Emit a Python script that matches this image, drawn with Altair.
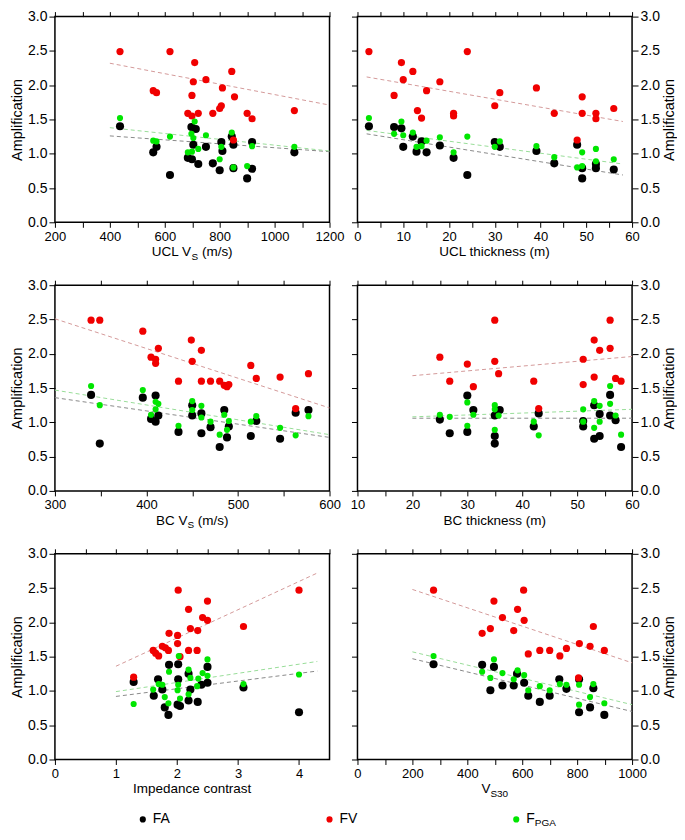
import altair as alt
import pandas as pd

FONT = "Liberation Sans"
W, H = 275, 206

SERIES = ["FA", "FV", "FPGA"]
POINT_COLORS = ["#000000", "#f00000", "#00e600"]
LINE_COLORS = ["#8a8a8a", "#d49a9a", "#99dd99"]
POINT_SIZES = [66, 38, 38]

# ---------------- Panel 1: UCL Vs ----------------
p1_fa_x = [437, 558, 570, 619, 697, 713, 704, 684, 699, 722, 750, 775, 800, 806, 810, 844, 850, 850, 900, 918, 918, 1072]
p1_fa_y = [1.40, 1.02, 1.10, 0.69, 1.39, 1.36, 1.13, 0.94, 0.92, 0.85, 1.10, 0.86, 0.76, 1.17, 1.04, 1.25, 1.13, 0.79, 0.64, 0.78, 1.17, 1.02]
p1_fv_x = [437, 619, 709, 704, 750, 844, 558, 570, 699, 810, 854, 806, 800, 684, 699, 722, 775, 900, 918, 1072, 850]
p1_fv_y = [2.49, 2.49, 2.33, 2.05, 2.08, 2.20, 1.92, 1.89, 1.85, 1.96, 1.83, 1.70, 1.66, 1.59, 1.55, 1.59, 1.59, 1.59, 1.51, 1.63, 1.20]
p1_pga_x = [437, 558, 570, 619, 709, 697, 704, 684, 699, 722, 750, 800, 806, 844, 850, 900, 918, 1072]
p1_pga_y = [1.52, 1.19, 1.18, 1.25, 1.47, 1.29, 1.23, 1.02, 1.03, 1.07, 1.27, 0.92, 1.10, 1.31, 0.80, 0.82, 1.11, 1.10]
p1_fit = {"FA": (400, 1.26, 1200, 1.03), "FV": (400, 2.32, 1200, 1.71), "FPGA": (400, 1.38, 1200, 1.04)}

# ---------------- Panel 2: UCL thickness ----------------
p2_fa_x = [2.5, 8.0, 9.6, 12.1, 10.0, 14.0, 12.9, 15.1, 18.0, 21.0, 24.0, 30.0, 31.1, 39.1, 43.0, 48.0, 49.1, 49.1, 52.1, 52.1, 56.0]
p2_fa_y = [1.40, 1.39, 1.37, 1.25, 1.10, 1.18, 1.03, 1.02, 1.12, 0.94, 0.69, 1.17, 1.10, 1.04, 0.86, 1.13, 0.79, 0.64, 0.85, 0.79, 0.77]
p2_fv_x = [2.5, 24.0, 9.6, 12.1, 10.0, 18.0, 8.0, 15.1, 39.1, 31.1, 49.1, 30.0, 13.1, 56.0, 14.0, 21.0, 21.0, 43.0, 49.1, 52.1, 52.1, 48.0]
p2_fv_y = [2.49, 2.49, 2.33, 2.20, 2.08, 2.05, 1.85, 1.92, 1.96, 1.89, 1.83, 1.70, 1.63, 1.66, 1.52, 1.59, 1.55, 1.59, 1.59, 1.59, 1.51, 1.20]
p2_pga_x = [2.5, 8.0, 9.6, 10.0, 12.1, 12.9, 14.0, 15.1, 18.0, 21.0, 24.0, 30.0, 31.1, 39.1, 43.0, 48.0, 49.1, 49.1, 52.1, 52.1, 56.0]
p2_pga_y = [1.52, 1.29, 1.47, 1.27, 1.31, 1.10, 1.11, 1.19, 1.24, 1.02, 1.25, 1.10, 1.18, 1.11, 0.95, 0.80, 1.02, 0.82, 1.07, 0.89, 0.92]
p2_fit = {"FA": (2, 1.29, 58, 0.69), "FV": (2, 2.12, 58, 1.47), "FPGA": (2, 1.34, 58, 0.85)}

# ---------------- Panel 3: BC Vs ----------------
p3_fa_x = [339.5, 349, 396, 410, 405, 410, 413, 435, 450, 450, 460, 460, 470, 480, 485, 488, 490, 514, 520, 546, 563, 577]
p3_fa_y = [1.40, 0.69, 1.36, 1.39, 1.05, 1.01, 1.10, 0.86, 1.25, 1.10, 1.13, 0.84, 0.93, 0.64, 1.18, 0.78, 0.94, 0.80, 1.02, 0.76, 1.14, 1.18]
p3_fv_x = [339.5, 349, 396, 449, 413, 460, 405, 410, 410, 450, 514, 577, 520, 546, 435, 460, 470, 480, 485, 488, 490, 563]
p3_fv_y = [2.49, 2.49, 2.33, 2.20, 2.08, 2.05, 1.95, 1.92, 1.86, 1.89, 1.83, 1.71, 1.64, 1.66, 1.60, 1.60, 1.60, 1.60, 1.54, 1.52, 1.55, 1.20]
p3_pga_x = [339.5, 349, 396, 410, 413, 410, 405, 435, 450, 450, 460, 460, 470, 480, 485, 488, 490, 514, 520, 546, 563, 577]
p3_pga_y = [1.53, 1.25, 1.47, 1.30, 1.27, 1.19, 1.11, 0.95, 1.31, 1.18, 1.24, 1.07, 1.01, 0.82, 1.11, 0.89, 1.02, 1.01, 1.09, 0.92, 0.81, 1.09]
p3_fit = {"FA": (300, 1.36, 600, 0.78), "FV": (300, 2.51, 600, 1.21), "FPGA": (300, 1.47, 600, 0.82)}

# ---------------- Panel 4: BC thickness ----------------
p4_fa_x = [25.0, 26.8, 30.0, 30.0, 31.1, 35.0, 35.9, 35.0, 35.0, 42.1, 43.0, 51.1, 51.1, 53.1, 53.1, 54.1, 54.1, 56.0, 56.0, 57.0, 58.0]
p4_fa_y = [1.04, 0.84, 1.39, 0.86, 1.18, 1.10, 1.18, 0.80, 0.69, 0.94, 1.13, 1.02, 0.94, 1.25, 0.76, 0.80, 1.12, 1.40, 1.10, 1.03, 0.64]
p4_fv_x = [25.0, 26.8, 30.0, 31.1, 35.0, 35.0, 35.7, 42.1, 43.0, 51.1, 51.1, 53.1, 53.1, 54.1, 56.0, 56.0, 57.0, 58.0]
p4_fv_y = [1.95, 1.60, 1.85, 1.52, 2.49, 1.89, 1.71, 1.60, 1.20, 1.92, 1.55, 2.20, 1.66, 2.05, 2.49, 2.08, 1.64, 1.60]
p4_pga_x = [25.0, 26.8, 30.0, 30.0, 31.1, 35.0, 35.0, 35.7, 35.0, 42.1, 43.0, 51.1, 51.1, 53.1, 53.1, 54.1, 54.1, 56.0, 56.0, 57.0, 58.0]
p4_pga_y = [1.11, 1.08, 1.29, 0.95, 1.11, 1.25, 1.19, 1.10, 0.89, 1.01, 0.81, 1.19, 1.01, 1.31, 0.92, 1.24, 1.01, 1.53, 1.27, 1.10, 0.82]
p4_fit = {"FA": (20, 1.06, 60, 1.06), "FV": (20, 1.68, 60, 1.96), "FPGA": (20, 1.08, 60, 1.19)}

# ---------------- Panel 5: Impedance contrast ----------------
p5_fa_x = [1.29, 1.87, 2.02, 2.50, 1.69, 2.02, 2.19, 1.76, 1.62, 2.22, 2.40, 2.50, 3.09, 2.19, 2.34, 1.80, 1.86, 2.01, 2.05, 4.0]
p5_fa_y = [1.13, 1.38, 1.39, 1.35, 1.17, 1.17, 1.25, 1.02, 0.93, 1.02, 1.09, 1.12, 1.05, 0.86, 0.84, 0.76, 0.65, 0.80, 0.78, 0.69]
p5_fv_x = [1.29, 2.02, 2.50, 2.19, 2.42, 2.50, 3.09, 4.0, 2.22, 2.34, 1.87, 2.01, 2.01, 1.76, 1.81, 1.86, 1.61, 1.65, 1.70, 2.19, 2.33, 2.05]
p5_fv_y = [1.20, 2.47, 2.31, 2.19, 2.07, 2.03, 1.94, 2.47, 1.91, 1.88, 1.84, 1.81, 1.69, 1.65, 1.63, 1.59, 1.59, 1.55, 1.51, 1.59, 1.59, 1.50]
p5_pga_x = [1.29, 2.03, 2.50, 1.87, 2.19, 2.42, 2.50, 2.35, 2.22, 1.70, 1.61, 1.76, 2.02, 2.01, 2.33, 2.19, 1.80, 2.05, 1.86, 3.09, 4.0]
p5_pga_y = [0.81, 1.51, 1.46, 1.28, 1.31, 1.26, 1.22, 1.18, 1.19, 1.10, 1.02, 1.09, 1.09, 1.01, 1.07, 0.95, 0.91, 0.89, 0.82, 1.10, 1.24]
p5_fit = {"FA": (1, 0.92, 4.3, 1.29), "FV": (1, 1.36, 4.3, 2.72), "FPGA": (1, 0.99, 4.3, 1.43)}

# ---------------- Panel 6: VS30 ----------------
p6_fa_x = [277, 454, 497, 484, 528, 569, 581, 607, 622, 664, 700, 735, 761, 807, 807, 847, 859, 899]
p6_fa_y = [1.39, 1.38, 1.35, 1.01, 1.08, 1.08, 1.25, 1.12, 0.93, 0.84, 0.93, 1.17, 1.03, 1.17, 0.69, 0.76, 1.04, 0.65]
p6_fv_x = [277, 605, 497, 583, 528, 607, 859, 484, 454, 569, 808, 847, 761, 622, 664, 700, 737, 899, 805]
p6_fv_y = [2.47, 2.47, 2.31, 2.19, 2.07, 2.03, 1.94, 1.91, 1.84, 1.88, 1.69, 1.65, 1.62, 1.54, 1.59, 1.59, 1.51, 1.59, 1.19]
p6_pga_x = [277, 454, 497, 484, 528, 569, 583, 607, 622, 664, 700, 737, 761, 807, 807, 847, 859, 899]
p6_pga_y = [1.51, 1.28, 1.46, 1.19, 1.26, 1.17, 1.30, 1.23, 1.01, 1.07, 1.01, 1.10, 1.09, 1.09, 0.80, 0.91, 1.10, 0.82]
p6_fit = {"FA": (200, 1.47, 1000, 0.70), "FV": (200, 2.48, 1000, 1.41), "FPGA": (200, 1.57, 1000, 0.80)}

Y_TICKS = [0.0, 0.5, 1.0, 1.5, 2.0, 2.5, 3.0]

# Arial / Liberation Sans advance widths (per 1000 em)
CHAR_W = {" ": 278, "(": 333, ")": 333, "/": 278, "A": 667, "B": 667, "C": 722, "F": 611,
          "G": 778, "I": 278, "L": 556, "P": 667, "S": 667, "U": 722, "V": 667, "a": 556,
          "c": 500, "d": 556, "e": 556, "h": 556, "i": 222, "k": 500, "m": 833, "n": 556,
          "o": 556, "p": 556, "r": 333, "s": 500, "t": 278, "3": 556, "0": 556}


def text_width(t, size):
    return sum(CHAR_W.get(c, 556) for c in t) * size / 1000.0


def tick_vals(lo, hi, step):
    n = int(round((hi - lo) / step))
    return [round(lo + i * step, 6) for i in range(n + 1)]


def points_df(fa_x, fa_y, fv_x, fv_y, pga_x, pga_y):
    rows = []
    for s, xs, ys in (("FA", fa_x, fa_y), ("FV", fv_x, fv_y), ("FPGA", pga_x, pga_y)):
        rows += [{"x": a, "y": b, "s": s} for a, b in zip(xs, ys)]
    return pd.DataFrame(rows)


def lines_df(fit):
    rows = []
    for s in SERIES:
        x0, y0, x1, y1 = fit[s]
        rows += [{"x": x0, "y": y0, "s": s}, {"x": x1, "y": y1, "s": s}]
    return pd.DataFrame(rows)


def x_axis(orient, lo, hi, major, minor, labels):
    test = f"abs(datum.value/{major} - round(datum.value/{major})) < 0.001"
    kw = dict(orient=orient, values=tick_vals(lo, hi, minor), labels=labels,
              tickSize=5, tickColor="black", tickWidth=1, domain=False, grid=False, title=None)
    if labels:
        kw.update(labelExpr=f"{test} ? datum.label : ''", format="d", labelOverlap=False,
                  labelFlush=False, labelFont=FONT, labelFontSize=13, labelColor="black",
                  labelPadding=3)
    return alt.Axis(**kw)


def y_axis(orient, labels, title):
    kw = dict(orient=orient, values=Y_TICKS, labels=labels, tickSize=6, tickColor="black",
              tickWidth=1, domain=False, grid=False)
    if labels:
        kw.update(format=".1f", labelFont=FONT, labelFontSize=14, labelColor="black",
                  labelPadding=2, labelOverlap=False, labelFlush=False)
    if title:
        kw.update(title="Amplification", titleFont=FONT, titleFontSize=14.5,
                  titleFontWeight="normal", titleColor="black", titlePadding=3, titleAngle=270)
        if orient == "right":
            kw.update(titleBaseline="top")
    else:
        kw.update(title=None)
    return alt.Axis(**kw)


def panel(pdf, ldf, lo, hi, major, minor, title_pieces, side):
    xs = alt.Scale(domain=[lo, hi], nice=False, zero=False)
    ys = alt.Scale(domain=[0, 3], nice=False, zero=False)
    main_y = y_axis(side, True, True)
    second_y = y_axis("left", False, False) if side == "right" else None

    lines = alt.Chart(ldf).mark_line(strokeWidth=1, strokeDash=[4, 3]).encode(
        x=alt.X("x:Q", scale=xs, axis=x_axis("bottom", lo, hi, major, minor, True)),
        y=alt.Y("y:Q", scale=ys, axis=main_y),
        color=alt.Color("s:N", scale=alt.Scale(domain=SERIES, range=LINE_COLORS), legend=None),
        detail="s:N",
    )
    pts = alt.Chart(pdf).mark_circle(opacity=1).encode(
        x=alt.X("x:Q", scale=xs, axis=x_axis("top", lo, hi, major, minor, False)),
        y=alt.Y("y:Q", scale=ys, axis=second_y),
        color=alt.Color("s:N", scale=alt.Scale(domain=SERIES, range=POINT_COLORS), legend=None),
        size=alt.Size("s:N", scale=alt.Scale(domain=SERIES, range=POINT_SIZES), legend=None),
    )
    layers = [lines, pts]
    widths = [text_width(t, sz) for t, sz, dy in title_pieces]
    cx = W / 2 - sum(widths) / 2
    for (t, sz, dy), w in zip(title_pieces, widths):
        lead = len(t) - len(t.lstrip(" "))
        x0 = cx + text_width(" " * lead, sz)
        layers.append(
            alt.Chart(alt.Data(values=[{}])).mark_text(
                text=t.lstrip(" "), align="left", baseline="alphabetic", font=FONT, fontSize=sz,
                color="black"
            ).encode(x=alt.value(x0), y=alt.value(H + 34 + dy))
        )
        cx += w
    return alt.layer(*layers).resolve_axis(x="independent", y="independent").resolve_scale(
        color="independent").properties(width=W, height=H)


TS = 13.5
SUB = 10
c1 = panel(points_df(p1_fa_x, p1_fa_y, p1_fv_x, p1_fv_y, p1_pga_x, p1_pga_y), lines_df(p1_fit),
           200, 1200, 200, 100, [("UCL V", TS, 0), ("S", SUB, 3.5), (" (m/s)", TS, 0)], "left")
c2 = panel(points_df(p2_fa_x, p2_fa_y, p2_fv_x, p2_fv_y, p2_pga_x, p2_pga_y), lines_df(p2_fit),
           0, 60, 10, 5, [("UCL thickness (m)", TS, 0)], "right")
c3 = panel(points_df(p3_fa_x, p3_fa_y, p3_fv_x, p3_fv_y, p3_pga_x, p3_pga_y), lines_df(p3_fit),
           300, 600, 100, 50, [("BC V", TS, 0), ("S", SUB, 3.5), (" (m/s)", TS, 0)], "left")
c4 = panel(points_df(p4_fa_x, p4_fa_y, p4_fv_x, p4_fv_y, p4_pga_x, p4_pga_y), lines_df(p4_fit),
           10, 60, 10, 5, [("BC thickness (m)", TS, 0)], "right")
c5 = panel(points_df(p5_fa_x, p5_fa_y, p5_fv_x, p5_fv_y, p5_pga_x, p5_pga_y), lines_df(p5_fit),
           0, 4.5, 1, 0.5, [("Impedance contrast", TS, 0)], "left")
c6 = panel(points_df(p6_fa_x, p6_fa_y, p6_fv_x, p6_fv_y, p6_pga_x, p6_pga_y), lines_df(p6_fit),
           0, 1000, 200, 100, [("V", TS, 0), ("S30", SUB, 3.5)], "right")

# ---------------- Legend ----------------
leg_main = ["FA", "FV", "F"]
leg_sub = ["", "", "PGA"]
leg_df = pd.DataFrame({"s": SERIES, "main": leg_main, "sub": leg_sub})
leg_x = alt.X("s:N", scale=alt.Scale(domain=SERIES, range=[88, 462], padding=0), axis=None)
leg_base = alt.Chart(leg_df).encode(x=leg_x, y=alt.value(8))
leg_pts = leg_base.mark_circle(opacity=1, size=38).encode(
    color=alt.Color("s:N", scale=alt.Scale(domain=SERIES, range=POINT_COLORS), legend=None))
leg_txt = leg_base.mark_text(align="left", baseline="middle", dx=10, font=FONT, fontSize=14,
                             color="black").encode(text="main:N")
leg_sub_txt = leg_base.mark_text(align="left", baseline="middle", dx=10 + text_width("F", 14),
                                 dy=4, font=FONT, fontSize=10, color="black").encode(text="sub:N")
legend = alt.layer(leg_pts, leg_txt, leg_sub_txt).properties(
    width=560, height=16, view=alt.ViewBackground(stroke="transparent"))

grid = alt.concat(c1, c2, c3, c4, c5, c6, columns=2, spacing={"row": 14, "column": 4})

chart = alt.vconcat(grid, legend, spacing=10).properties(padding=0).configure(
    font=FONT).configure_view(stroke="black", strokeWidth=1.5)

chart.save("out.html", embed_options={"renderer": "svg", "actions": False})
